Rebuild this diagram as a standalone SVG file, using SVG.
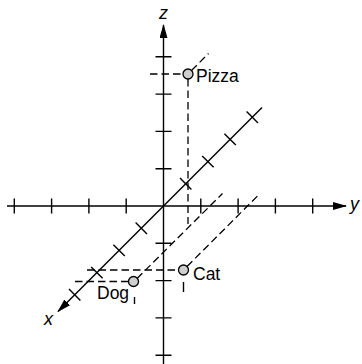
<svg xmlns="http://www.w3.org/2000/svg" width="362" height="364" viewBox="0 0 362 364">
<defs>
<style>
.ax{stroke:#000;stroke-width:1.4;fill:none}
.tk{stroke:#000;stroke-width:1.4;fill:none}
.ds{stroke:#000;stroke-width:1.3;fill:none;stroke-dasharray:7.5 4}
.pt{fill:#cfcfcf;stroke:#000;stroke-width:1.3}
.lb{font-family:"Liberation Sans",Arial,sans-serif;font-size:17.5px;fill:#000}
.al{font-family:"Liberation Sans",Arial,sans-serif;font-size:18px;font-style:italic;fill:#000}
</style>
<marker id="ar" viewBox="0 0 14 8" refX="13" refY="4" markerWidth="14" markerHeight="8" markerUnits="userSpaceOnUse" orient="auto">
<path d="M0,0 L14,4 L0,8 Z" fill="#000"/>
</marker>
</defs>
<g id="connectors">
<line class="ax" x1="7" y1="206" x2="346" y2="206" marker-end="url(#ar)"/>
<line class="ax" x1="163.5" y1="364" x2="163.5" y2="25" marker-end="url(#ar)"/>
<line class="ax" x1="262" y1="107.5" x2="58" y2="311.5" marker-end="url(#ar)"/>
<path class="tk" d="M14.3,198.5v15M51.6,198.5v15M88.9,198.5v15M126.2,198.5v15M200.8,198.5v15M238.1,198.5v15M275.4,198.5v15M312.7,198.5v15"/>
<path class="tk" d="M155.5,56.8h16M155.5,94.1h16M155.5,131.4h16M155.5,168.7h16M155.5,243.3h16M155.5,280.6h16M155.5,317.9h16M155.5,355.2h16"/>
<path class="tk" d="M180,178.1l11.4,11.4M202.2,155.9l11.4,11.4M224.4,133.7l11.4,11.4M246.6,111.5l11.4,11.4M135.6,222.5l11.4,11.4M113.4,244.7l11.4,11.4M91.2,266.9l11.4,11.4M69,289.1l11.4,11.4"/>
<line class="ds" x1="150" y1="74" x2="183" y2="74"/>
<line class="ds" x1="188" y1="79" x2="188" y2="224"/>
<line class="ds" x1="191.5" y1="70.5" x2="208.5" y2="53.5"/>
<line class="ds" x1="87" y1="270" x2="178.5" y2="270"/>
<line class="ds" x1="187" y1="266.5" x2="259.5" y2="194"/>
<line class="tk" x1="183.5" y1="282" x2="183.5" y2="292"/>
<line class="ds" x1="75" y1="281.5" x2="128.5" y2="281.5"/>
<line class="ds" x1="137" y1="278.5" x2="222.5" y2="193.5"/>
<line class="tk" x1="134.5" y1="297" x2="134.5" y2="304"/>
</g>
<g id="axis-labels">
<text class="al" x="163.5" y="19" text-anchor="middle">z</text>
<text class="al" x="350" y="210">y</text>
<text class="al" x="44" y="325">x</text>
</g>
<g id="pizza">
<circle class="pt" cx="188" cy="74" r="5"/>
<text class="lb" x="196" y="82">Pizza</text>
</g>
<g id="cat">
<circle class="pt" cx="183.5" cy="270" r="5"/>
<text class="lb" x="193" y="280">Cat</text>
</g>
<g id="dog">
<circle class="pt" cx="133.5" cy="281.5" r="5"/>
<text class="lb" x="97" y="299">Dog</text>
</g>
</svg>
